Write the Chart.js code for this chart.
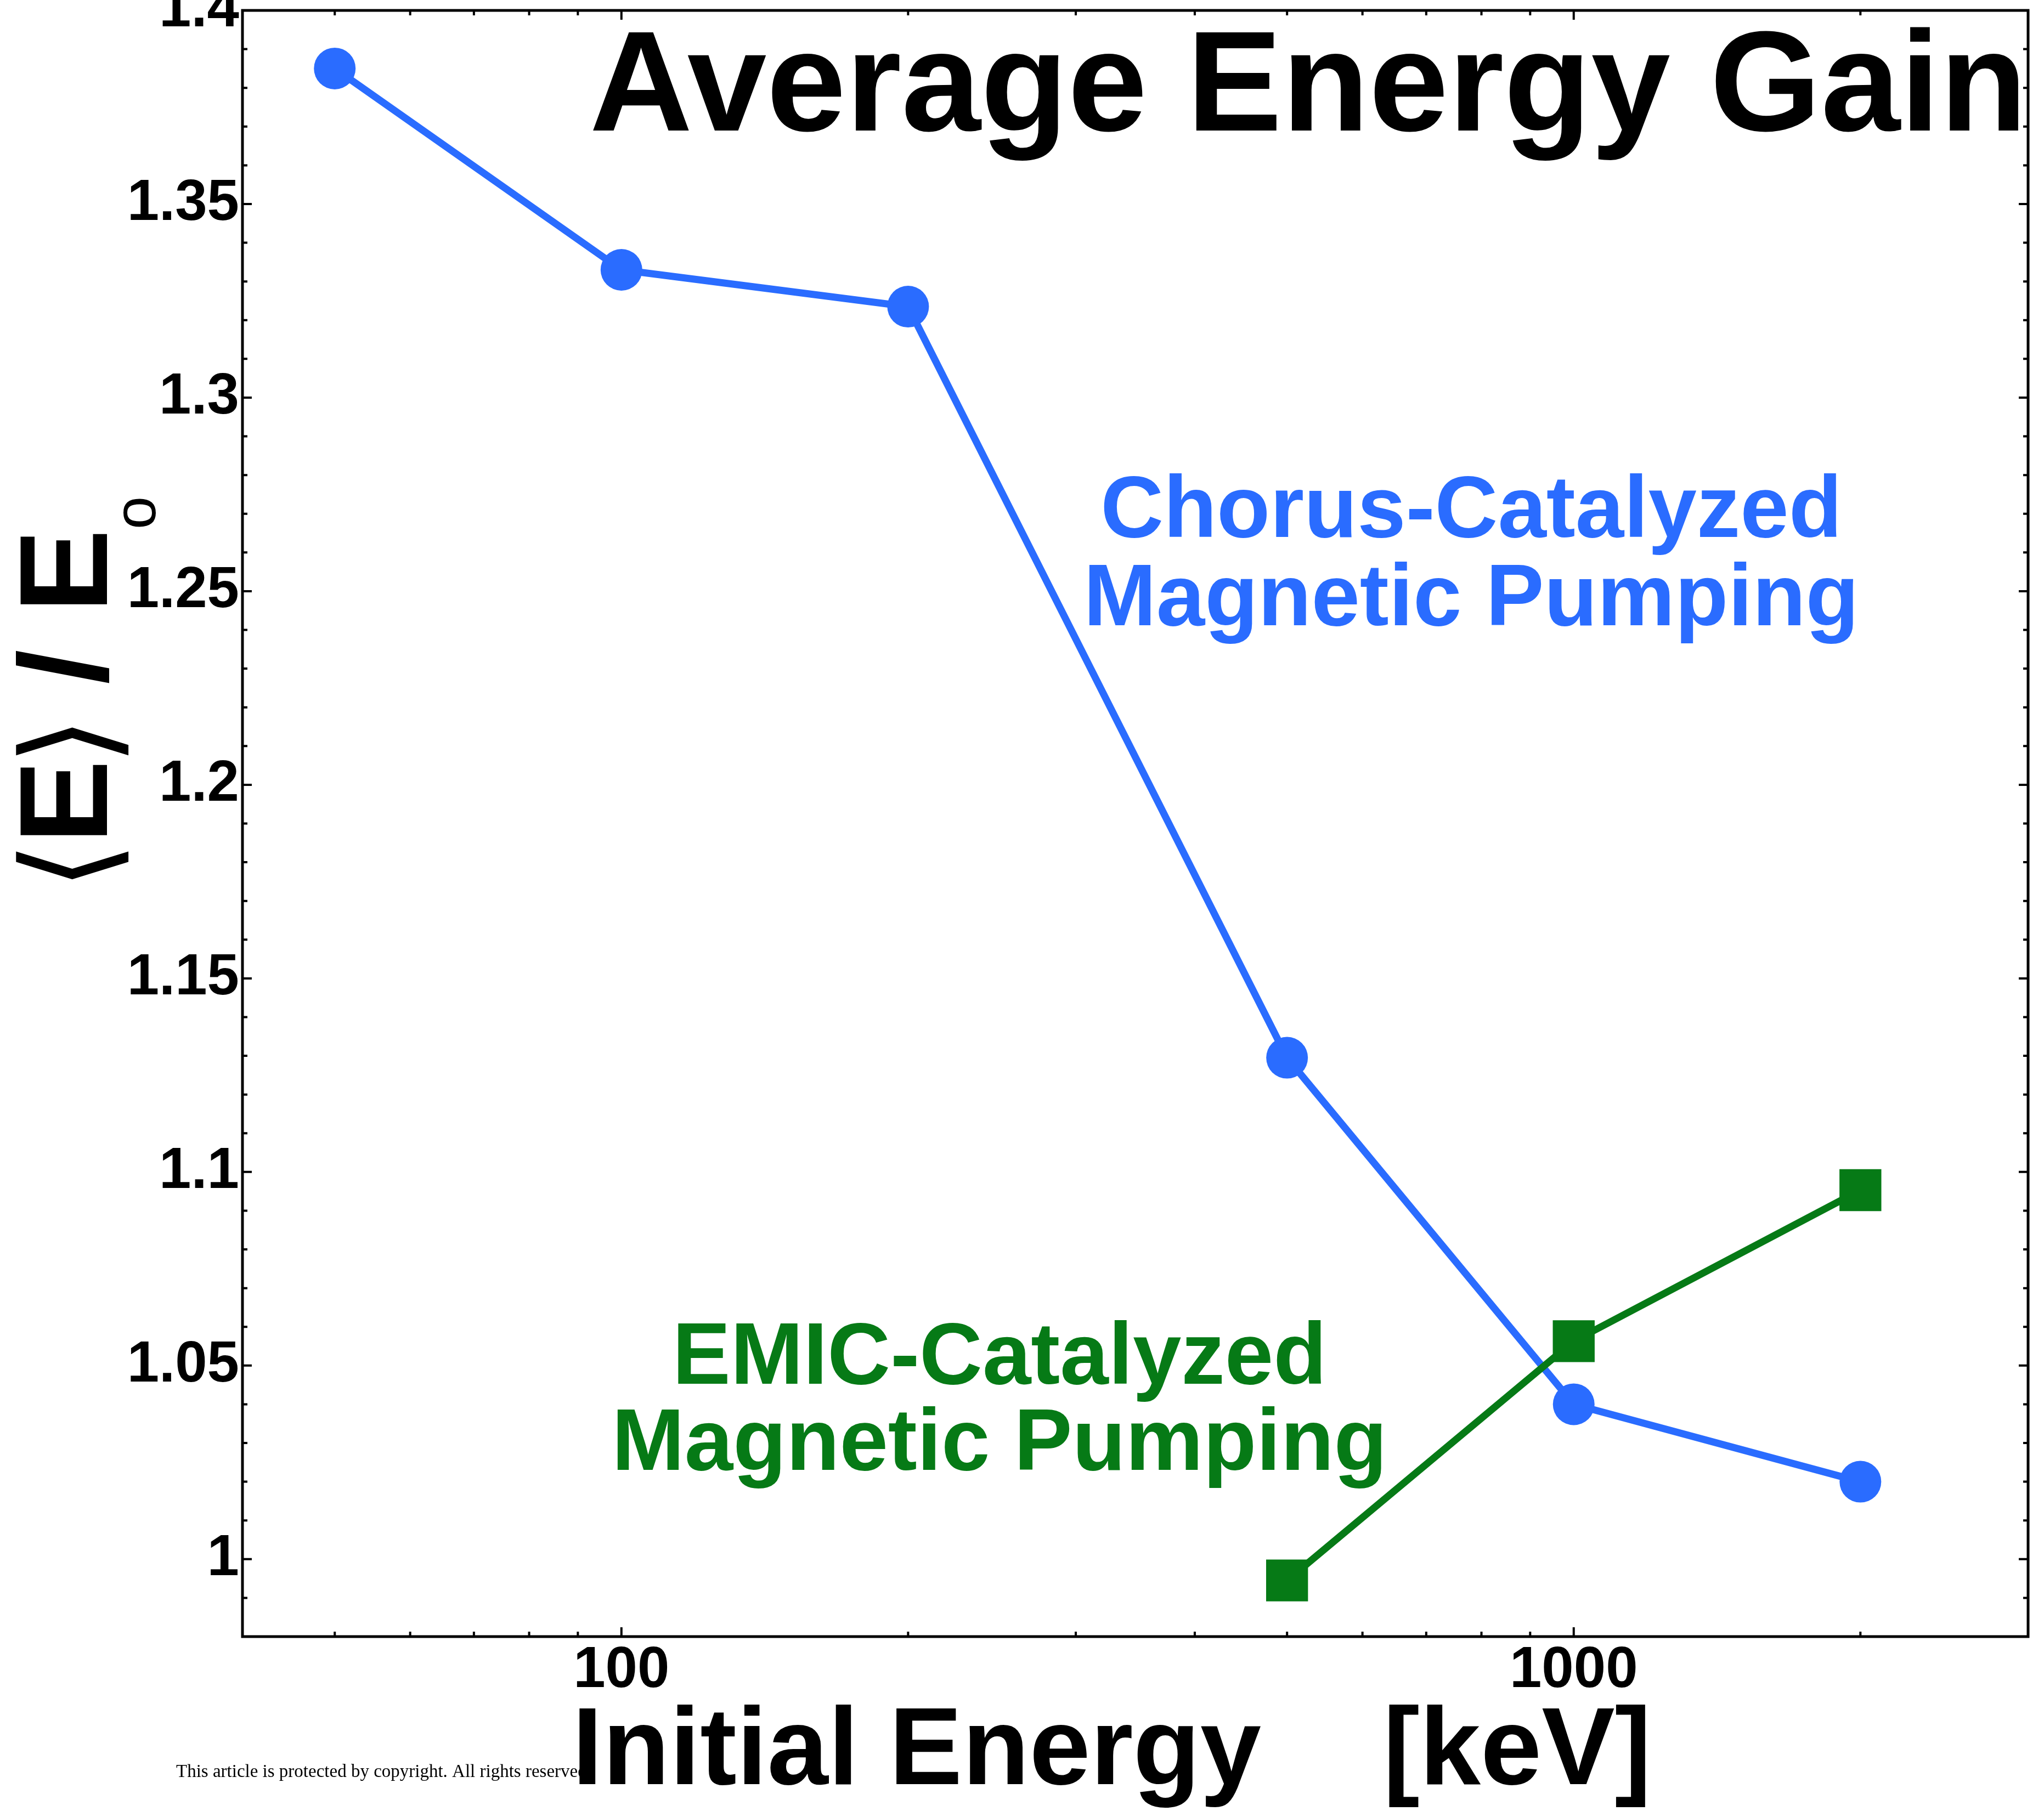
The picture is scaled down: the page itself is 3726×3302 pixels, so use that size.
<!DOCTYPE html>
<html>
<head>
<meta charset="utf-8">
<title>Average Energy Gain</title>
<script src="https://cdn.jsdelivr.net/npm/chart.js@4.4.1/dist/chart.umd.min.js"></script>
<style>
  html, body { margin: 0; padding: 0; background: #fff; }
</style>
</head>
<body>
<canvas id="gainChart" width="3726" height="3302"></canvas>
<script>
// initial energy [keV] and <E>/E0
var chorusEnergy = [50, 100, 200, 500, 1000, 2000];
var chorusGain = [1.385, 1.333, 1.3235, 1.1295, 1.040, 1.020];
var emicEnergy = [500, 1000, 2000];
var emicGain = [0.9945, 1.0563, 1.0953];

// axis ticks
var xMajorTicks = [100, 1000];
var xMinorTicks = [40, 50, 60, 70, 80, 90, 200, 300, 400, 500, 600, 700, 800, 900, 2000, 3000];
var yMajorTicks = [1, 1.05, 1.1, 1.15, 1.2, 1.25, 1.3, 1.35, 1.4];
var yMinorTicks = [];
for (var k = 98; k <= 140; k++) {
    if (k % 5 !== 0) yMinorTicks.push(k / 100);
}

var BLUE = '#2a6cff';
var GREEN = '#067a16';
var SANS = '"Liberation Sans", Arial, Helvetica, sans-serif';

function toPoints(xs, ys) {
    return xs.map(function (x, i) { return { x: x, y: ys[i] }; });
}

var decorPlugin = {
    id: 'decor',
    beforeDraw: function (chart) {
        var ctx = chart.ctx;
        ctx.save();
        ctx.fillStyle = '#fff';
        ctx.fillRect(0, 0, chart.width, chart.height);
        // journal stamp, sits under the axis title
        ctx.fillStyle = '#000';
        ctx.font = '33px "Liberation Serif", "Times New Roman", serif';
        ctx.textAlign = 'left';
        ctx.textBaseline = 'alphabetic';
        ctx.fillText('This article is protected by copyright. All rights reserved.', 321, 3240);
        ctx.restore();
    },
    afterDraw: function (chart) {
        var ctx = chart.ctx;
        var a = chart.chartArea;
        var xs = chart.scales.x, ys = chart.scales.y;
        ctx.save();

        // frame
        ctx.strokeStyle = '#000';
        ctx.lineWidth = 5;
        ctx.strokeRect(a.left, a.top, a.right - a.left, a.bottom - a.top);

        // inward tick marks on all four sides
        ctx.lineWidth = 4;
        ctx.beginPath();
        function yTick(v, len) {
            var p = ys.getPixelForValue(v);
            ctx.moveTo(a.left, p); ctx.lineTo(a.left + len, p);
            ctx.moveTo(a.right, p); ctx.lineTo(a.right - len, p);
        }
        function xTick(v, len) {
            var p = xs.getPixelForValue(v);
            ctx.moveTo(p, a.bottom); ctx.lineTo(p, a.bottom - len);
            ctx.moveTo(p, a.top); ctx.lineTo(p, a.top + len);
        }
        yMajorTicks.forEach(function (v) { yTick(v, 17); });
        yMinorTicks.forEach(function (v) { yTick(v, 9); });
        xMajorTicks.forEach(function (v) { xTick(v, 17); });
        xMinorTicks.forEach(function (v) { xTick(v, 9); });
        ctx.stroke();

        // title
        ctx.fillStyle = '#000';
        ctx.font = 'bold 260px ' + SANS;
        ctx.textAlign = 'right';
        ctx.textBaseline = 'alphabetic';
        ctx.fillText('Average Energy Gain', 3695, 238);

        // series labels
        ctx.font = 'bold 159px ' + SANS;
        ctx.textAlign = 'center';
        ctx.fillStyle = BLUE;
        ctx.fillText('Chorus-Catalyzed', 2682, 979);
        ctx.fillText('Magnetic Pumping', 2682, 1140);
        ctx.fillStyle = GREEN;
        ctx.fillText('EMIC-Catalyzed', 1822, 2523);
        ctx.fillText('Magnetic Pumping', 1822, 2680);

        // x axis title
        ctx.fillStyle = '#000';
        ctx.font = 'bold 200px ' + SANS;
        ctx.textAlign = 'left';
        ctx.fillText('Initial Energy    [keV]', 1043, 3253);

        // y axis title  <E> / E_o , reading upward
        ctx.translate(195, 1612);
        ctx.rotate(-Math.PI / 2);
        ctx.textAlign = 'center';
        ctx.font = '230px "DejaVu Sans", sans-serif';
        ctx.textBaseline = 'middle';
        ctx.fillText('\u27E8', 33, -51);
        ctx.fillText('\u27E9', 261, -51);
        ctx.textBaseline = 'alphabetic';
        ctx.font = 'bold 228px ' + SANS;
        ctx.fillText('E', 150, 0);
        ctx.fillText('/', 396, 0);
        ctx.fillText('E', 571, 0);
        ctx.font = '108px ' + SANS;
        ctx.fillText('o', 677, 88);

        ctx.restore();
    }
};

var ctx = document.getElementById('gainChart').getContext('2d');
var gainChart = new Chart(ctx, {
    type: 'scatter',
    data: {
        datasets: [{
            label: 'Chorus-Catalyzed Magnetic Pumping',
            data: toPoints(chorusEnergy, chorusGain),
            showLine: true,
            borderColor: BLUE,
            backgroundColor: BLUE,
            borderWidth: 13,
            pointStyle: 'circle',
            pointRadius: 38,
            pointBorderWidth: 0,
            order: 2,
        }, {
            label: 'EMIC-Catalyzed Magnetic Pumping',
            data: toPoints(emicEnergy, emicGain),
            showLine: true,
            borderColor: GREEN,
            backgroundColor: GREEN,
            borderWidth: 13,
            pointStyle: 'rect',
            pointRadius: 54,
            pointBorderWidth: 0,
            order: 1,
        }],
    },
    options: {
        responsive: false,
        animation: false,
        devicePixelRatio: 1,
        layout: {
            autoPadding: false,
            padding: { top: 19, right: 29, left: 0, bottom: 0 },
        },
        plugins: {
            legend: { display: false },
            tooltip: { enabled: false },
        },
        scales: {
            x: {
                type: 'logarithmic',
                min: 40,
                max: 3000,
                grid: { display: false, drawTicks: false },
                border: { display: false },
                ticks: {
                    color: '#000',
                    font: { family: SANS, weight: 'bold', size: 105 },
                    padding: 0,
                    maxRotation: 0,
                    autoSkip: false,
                    callback: function (v) { return String(v); },
                },
                afterBuildTicks: function (s) {
                    s.ticks = xMajorTicks.map(function (v) { return { value: v }; });
                },
                afterFit: function (s) {
                    s.height = 318;
                    s.paddingLeft = 0;
                    s.paddingRight = 0;
                },
            },
            y: {
                type: 'linear',
                min: 0.98,
                max: 1.4,
                grid: { display: false, drawTicks: false },
                border: { display: false },
                ticks: {
                    color: '#000',
                    font: { family: SANS, weight: 'bold', size: 105 },
                    padding: 6,
                    autoSkip: false,
                    callback: function (v) { return String(+v.toFixed(2)); },
                },
                afterBuildTicks: function (s) {
                    s.ticks = yMajorTicks.map(function (v) { return { value: v }; });
                },
                afterFit: function (s) {
                    s.width = 442;
                    s.paddingTop = 0;
                    s.paddingBottom = 0;
                },
            },
        },
    },
    plugins: [decorPlugin],
});
</script>
</body>
</html>
